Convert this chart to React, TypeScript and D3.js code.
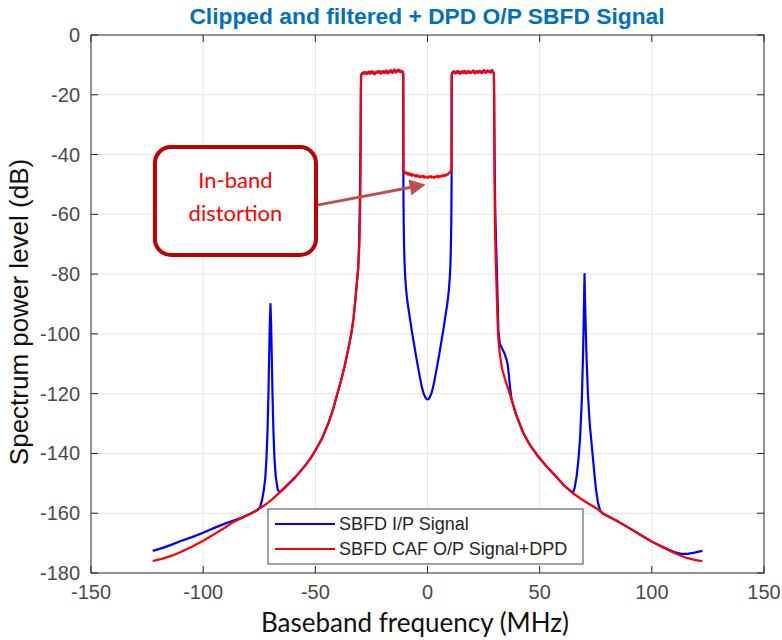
import React from "react";
import * as d3 from "d3";

type P = [number, number];

const W = 782;
const H = 640;
const plot = { left: 91, right: 764, top: 35, bottom: 573 };

const title = "Clipped and filtered + DPD O/P SBFD Signal";
const xLabel = "Baseband frequency (MHz)";
const yLabel = "Spectrum power level (dB)";
const seriesNames = ["SBFD I/P Signal", "SBFD CAF O/P Signal+DPD"];
const xTicks = [-150, -100, -50, 0, 50, 100, 150];
const yTicks = [0, -20, -40, -60, -80, -100, -120, -140, -160, -180];

// in-band (shared) sampled levels
const bandStep = 0.4;
const leftBandStart = -29.6;
const rightBandStart = 10.8;
const leftBandDb = [
  -13.4, -12.9, -12.6, -12.9, -12.4, -12.7, -13.0, -12.5, -12.8, -12.3, -12.9, -12.6,
  -12.2, -12.8, -12.5, -13.1, -12.6, -12.3, -12.7, -12.4, -12.0, -12.6, -12.9, -12.3,
  -12.5, -12.1, -12.7, -12.4, -11.9, -12.5, -12.8, -12.2, -12.4, -11.8, -12.3, -12.6,
  -12.0, -11.6, -12.2, -12.5, -11.9, -12.1, -11.7, -12.3, -12.0, -12.4, -12.2, -12.9,
];
const rightBandDb = [
  -13.2, -12.6, -12.2, -12.5, -12.8, -12.3, -12.6, -12.1, -12.4, -12.9, -12.5, -12.2,
  -12.7, -12.4, -12.0, -12.6, -12.8, -12.3, -12.5, -12.1, -12.7, -12.4, -12.6, -12.2,
  -11.9, -12.5, -12.8, -12.3, -12.1, -12.6, -12.4, -12.0, -12.5, -12.2, -12.7, -12.3,
  -11.8, -12.4, -12.6, -12.1, -11.9, -12.3, -12.0, -12.5, -12.2, -11.8, -12.4, -13.0,
];

// red: in-band distortion between the two bands
const gapStep = 0.5;
const gapStart = -10.5;
const redGapDb = [
  -45.6, -46.3, -45.9, -46.6, -46.2, -46.9, -46.4, -47.1, -46.6, -46.9, -47.3, -46.8,
  -47.4, -47.0, -47.6, -47.2, -47.5, -47.1, -47.7, -47.3, -47.6, -47.8, -47.3, -47.6,
  -47.2, -47.7, -47.4, -47.8, -47.3, -47.5, -47.1, -47.6, -47.2, -47.4, -46.9, -47.3,
  -46.8, -47.1, -46.6, -46.7, -46.2, -45.9, -45.4,
];

const redLeftSkirt: P[] = [
  [-122.5, -176], [-118, -175.2], [-114, -174.2], [-110, -173], [-105, -171.2], [-100, -169.2],
  [-95, -167], [-90, -164.7], [-86.7, -163], [-83, -161.7], [-79, -160.3], [-76, -159],
  [-72, -157], [-69, -155.2], [-66, -153.1], [-63, -151], [-59, -148], [-55, -144.5],
  [-52, -141.5], [-50, -139], [-47, -135], [-44, -129.5], [-42, -125], [-40, -119.5],
  [-38.5, -115.5], [-37, -111], [-36, -107.5], [-35, -104], [-34, -100], [-33, -95],
  [-32.2, -89], [-31.5, -83], [-30.9, -78], [-30.4, -71], [-30.1, -62], [-29.9, -50],
  [-29.8, -35], [-29.7, -20],
];
const redRightSkirt: P[] = [
  [29.7, -20], [29.8, -35], [29.9, -50], [30.1, -65], [30.4, -75], [30.8, -85], [31.2, -95],
  [31.6, -102], [32.3, -107], [33.2, -111.5], [34.5, -115], [36, -118.5], [37.5, -122],
  [39.5, -127], [42.6, -133], [45.5, -137], [48.8, -140.5], [53, -144.3], [57.6, -148],
  [61, -150.8], [65, -153.4], [70, -156], [75.6, -158.5], [78.3, -160.2], [85, -162.8],
  [90, -165], [95, -167.3], [100, -169.5], [105, -171.5], [110, -173.3], [115, -174.8],
  [119, -175.6], [122.5, -176],
];
const redGapEdges: P[] = [[-10.7, -45.8], [10.7, -45.4]];

const blueLeftSkirt: P[] = [
  [-122.5, -172.6], [-118, -171.6], [-114, -170.5], [-110, -169.3], [-105, -168], [-100, -166.5],
  [-95, -164.9], [-90, -163.4], [-86.7, -162.5], [-83, -161.5], [-79, -160.2], [-76, -159],
  [-74.7, -158], [-73.8, -155.8], [-73, -152.5], [-72.3, -148], [-71.8, -142], [-71.3, -132],
  [-70.9, -120], [-70.6, -108], [-70.3, -97], [-70, -90], [-69.7, -97], [-69.4, -108],
  [-69.1, -120], [-68.7, -132], [-68.2, -142], [-67.6, -148], [-66.8, -152], [-66, -153.1],
  [-63, -151], [-59, -148], [-55, -144.5], [-52, -141.5], [-50, -139], [-47, -135],
  [-44, -129.5], [-42, -125], [-40, -119.5], [-38.5, -115.5], [-37, -111], [-36, -107.5],
  [-35, -104], [-34, -100], [-33, -95], [-32.2, -89], [-31.5, -83], [-30.9, -78],
  [-30.5, -70], [-30.2, -58], [-30.0, -46], [-29.8, -32], [-29.7, -20],
];
const blueGap: P[] = [
  [-10.75, -46], [-10.7, -55], [-10.6, -63], [-10.45, -70], [-10.25, -76], [-9.95, -81],
  [-9.5, -85.5], [-8.9, -89.5], [-8.1, -93.5], [-7.2, -98], [-6.2, -102.5], [-5.2, -107],
  [-4.2, -111.2], [-3.3, -114.8], [-2.5, -117.8], [-1.7, -120], [-1, -121.2], [-0.4, -121.8],
  [0, -121.9], [0.4, -121.8], [1, -121.2], [1.7, -120], [2.5, -117.8], [3.3, -114.8],
  [4.2, -111.2], [5.2, -107], [6.2, -102.5], [7.2, -98], [8.1, -93.5], [8.9, -89.5],
  [9.5, -85.5], [9.95, -81], [10.25, -76], [10.45, -70], [10.6, -63], [10.7, -55], [10.75, -46],
];
const blueRightSkirt: P[] = [
  [29.7, -20], [29.8, -32], [30.0, -46], [30.2, -58], [30.5, -68], [30.9, -78], [31.3, -90],
  [31.6, -99], [32.3, -103.5], [33.3, -105], [34.3, -106.5], [35.2, -108.5], [35.8, -110.5],
  [36.3, -114], [36.8, -118], [37.5, -122], [39.5, -127], [42.6, -133], [45.5, -137],
  [48.8, -140.5], [53, -144.3], [57.6, -148], [61, -150.8], [64.8, -153.2], [65.6, -151.5],
  [66.5, -147.5], [67.3, -142], [68, -135], [68.8, -122], [69.3, -108], [69.6, -97],
  [69.8, -88], [70, -80], [70.2, -88], [70.5, -97], [70.9, -108], [71.5, -120], [72.3, -130],
  [73.3, -138], [74.3, -146], [75.1, -152], [76, -156.5], [77, -159.2], [78.3, -160.2],
  [85, -162.8], [90, -165], [95, -167.3], [100, -169.5], [105, -171.3], [110, -173],
  [113, -173.6], [116, -173.6], [119, -173.2], [122.5, -172.6],
];

// annotation (data coords)
const noteText = ["In-band", "distortion"];
const noteBox = { x0: -121.5, x1: -49.7, y0: -37.5, y1: -73.6 };
const noteArrow = { from: [-49.7, -57] as P, to: [-0.8, -50] as P };

const sampled = (start: number, step: number, vals: number[]): P[] =>
  vals.map((v, i) => [start + i * step, v]);

export default function App() {
  const x = d3.scaleLinear().domain([-150, 150]).range([plot.left, plot.right]);
  const y = d3.scaleLinear().domain([-180, 0]).range([plot.bottom, plot.top]);
  const line = d3
    .line<P>()
    .x((d) => x(d[0]))
    .y((d) => y(d[1]));

  const leftBand = sampled(leftBandStart, bandStep, leftBandDb);
  const rightBand = sampled(rightBandStart, bandStep, rightBandDb);
  const redSeries: P[] = [
    ...redLeftSkirt,
    ...leftBand,
    redGapEdges[0],
    ...sampled(gapStart, gapStep, redGapDb),
    redGapEdges[1],
    ...rightBand,
    ...redRightSkirt,
  ];
  const blueSeries: P[] = [...blueLeftSkirt, ...leftBand, ...blueGap, ...rightBand, ...blueRightSkirt];

  const axisColor = "#262626";
  const gridColor = "#e4e4e4";
  const tickLen = 7;
  const tickFont = "'Liberation Sans', Arial, sans-serif";

  const bx0 = x(noteBox.x0), bx1 = x(noteBox.x1), by0 = y(noteBox.y0), by1 = y(noteBox.y1);
  const ax0 = x(noteArrow.from[0]), ay0 = y(noteArrow.from[1]);
  const ax1 = x(noteArrow.to[0]), ay1 = y(noteArrow.to[1]);
  const ang = Math.atan2(ay1 - ay0, ax1 - ax0);
  const headLen = 16, headW = 8;
  const hbx = ax1 - headLen * Math.cos(ang), hby = ay1 - headLen * Math.sin(ang);
  const head = [
    [ax1, ay1],
    [hbx + headW * Math.sin(ang), hby - headW * Math.cos(ang)],
    [hbx - headW * Math.sin(ang), hby + headW * Math.cos(ang)],
  ];

  const legend = { x: 268, y: 509, w: 315, h: 55 };

  return (
    <svg
      width={W}
      height={H}
      style={{ position: "absolute", left: 0, top: 0, background: "#fff" }}
      fontFamily={tickFont}
    >
      <rect x={0} y={0} width={W} height={H} fill="#fff" />
      <defs>
        <clipPath id="plotClip">
          <rect x={plot.left} y={plot.top} width={plot.right - plot.left} height={plot.bottom - plot.top} />
        </clipPath>
      </defs>
      {/* grid */}
      {xTicks.slice(1, -1).map((t) => (
        <line key={"gx" + t} x1={x(t)} x2={x(t)} y1={plot.top} y2={plot.bottom} stroke={gridColor} strokeWidth={1} />
      ))}
      {yTicks.slice(1, -1).map((t) => (
        <line key={"gy" + t} x1={plot.left} x2={plot.right} y1={y(t)} y2={y(t)} stroke={gridColor} strokeWidth={1} />
      ))}
      {/* series */}
      <g clipPath="url(#plotClip)">
        <path d={line(blueSeries) || ""} fill="none" stroke="#0000FF" strokeWidth={2.2} strokeLinejoin="round" />
        <path d={line(redSeries) || ""} fill="none" stroke="#FF0000" strokeWidth={2.2} strokeLinejoin="round" />
      </g>
      {/* axes box */}
      <rect
        x={plot.left}
        y={plot.top}
        width={plot.right - plot.left}
        height={plot.bottom - plot.top}
        fill="none"
        stroke={axisColor}
        strokeWidth={1}
      />
      {xTicks.map((t) => (
        <g key={"xt" + t}>
          <line x1={x(t)} x2={x(t)} y1={plot.bottom} y2={plot.bottom - tickLen} stroke={axisColor} />
          <line x1={x(t)} x2={x(t)} y1={plot.top} y2={plot.top + tickLen} stroke={axisColor} />
          <text x={x(t)} y={plot.bottom + 26} textAnchor="middle" fontSize={20} fill="#4a4a4a">
            {t}
          </text>
        </g>
      ))}
      {yTicks.map((t) => (
        <g key={"yt" + t}>
          <line x1={plot.left} x2={plot.left + tickLen} y1={y(t)} y2={y(t)} stroke={axisColor} />
          <line x1={plot.right} x2={plot.right - tickLen} y1={y(t)} y2={y(t)} stroke={axisColor} />
          <text x={plot.left - 11} y={y(t) + 7} textAnchor="end" fontSize={20} fill="#4a4a4a">
            {t}
          </text>
        </g>
      ))}
      {/* labels */}
      <text x={427} y={24} textAnchor="middle" fontSize={22.8} fontWeight="bold" fill="#0070C0">
        {title}
      </text>
      <text x={415} y={632} textAnchor="middle" fontSize={26} fill="#111" fontFamily="Lato, 'Open Sans', sans-serif">
        {xLabel}
      </text>
      <text
        transform={`translate(28, 312) rotate(-90)`}
        textAnchor="middle"
        fontSize={26}
        fill="#111"
      >
        {yLabel}
      </text>
      {/* legend */}
      <rect x={legend.x} y={legend.y} width={legend.w} height={legend.h} fill="#fff" stroke="#666" strokeWidth={1.2} />
      {seriesNames.map((name, i) => (
        <g key={name}>
          <line
            x1={legend.x + 7}
            x2={legend.x + 67}
            y1={legend.y + 15 + i * 25}
            y2={legend.y + 15 + i * 25}
            stroke={i === 0 ? "#0000FF" : "#FF0000"}
            strokeWidth={2.2}
          />
          <text x={legend.x + 71} y={legend.y + 21 + i * 25} fontSize={18} fill="#262626">
            {name}
          </text>
        </g>
      ))}
      {/* annotation */}
      <line x1={ax0} y1={ay0} x2={hbx} y2={hby} stroke="#C0504D" strokeWidth={3} />
      <polygon points={head.map((p) => p.join(",")).join(" ")} fill="#C0504D" />
      <rect
        x={bx0}
        y={by0}
        width={bx1 - bx0}
        height={by1 - by0}
        rx={16}
        ry={16}
        fill="#fff"
        stroke="#C00000"
        strokeWidth={4}
      />
      {noteText.map((t, i) => (
        <text
          key={t}
          x={(bx0 + bx1) / 2}
          y={by0 + 41 + i * 33}
          textAnchor="middle"
          fontSize={22}
          fill="#FF0000"
          fontFamily="Lato, 'Open Sans', sans-serif"
        >
          {t}
        </text>
      ))}
    </svg>
  );
}
